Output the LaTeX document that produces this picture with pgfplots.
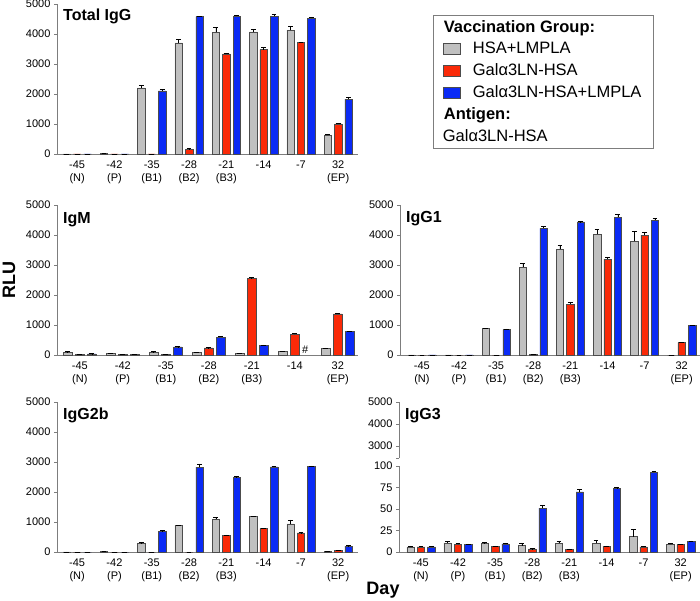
\documentclass[border=0pt]{standalone}
\usepackage{pgfplots}
\pgfplotsset{compat=1.18}
\usepackage{pgfplotstable}
\usepackage{fontspec}
\setmainfont{Liberation Sans}
\definecolor{cgrey}{RGB}{192,192,192}
\definecolor{cred}{RGB}{250,42,8}
\definecolor{cblue}{RGB}{10,42,245}
\definecolor{axgrey}{RGB}{125,125,125}

% Total IgG
\pgfplotstableread{
x g ge r re b be
0 5 0 0 0 0 0
1 15 5 0 0 0 0
2 2200 80 0 0 2100 50
3 3700 110 160 15 4580 20
4 4060 150 3340 20 4600 30
5 4070 80 3480 80 4600 60
6 4130 130 3720 10 4530 40
7 630 30 1000 20 1830 70
}\dtig
% IgM
\pgfplotstableread{
x g ge r re b be
0 100 10 10 0 40 5
1 60 5 20 0 20 0
2 100 10 20 0 270 10
3 80 10 240 10 600 20
4 60 5 2560 20 330 10
5 120 10 690 30 nan nan
6 230 10 1370 20 780 10
}\dtigm
% IgG1
\pgfplotstableread{
x g ge r re b be
0 5 0 0 0 5 0
1 5 0 0 0 5 0
2 880 20 0 0 850 20
3 2930 130 10 0 4220 60
4 3520 150 1700 60 4440 10
5 4030 150 3200 60 4600 90
6 3800 330 4000 80 4500 60
7 0 0 410 10 990 10
}\dtigi
% IgG2b
\pgfplotstableread{
x g ge r re b be
0 5 0 0 0 0 0
1 10 0 0 0 0 0
2 300 10 0 0 700 10
3 890 10 0 0 2830 110
4 1090 60 550 20 2490 20
5 1180 20 780 20 2840 20
6 940 130 640 10 2860 10
7 10 0 55 10 200 10
}\dtigiib
% IgG3
\pgfplotstableread{
x g ge r re b be
0 6 1 6 0.5 6 0.5
1 10.5 2 9 1 8.5 1
2 10 1 6.5 0.5 9.5 1
3 7.5 3 3.5 0.5 51 3
4 10 2 3 0.5 70 3
5 10 3.5 6.5 0.5 74 1
6 18 8 6 0.5 93 1
7 9 1 8.5 0.5 12 1
}\dtigiii

\tikzset{ptitle/.style={anchor=north west, inner sep=0pt, font=\bfseries\fontsize{16}{18}\selectfont}}
\pgfplotsset{
  panel/.style={
    scale only axis, height=150pt,
    axis x line*=bottom, axis y line*=left,
    axis line style={axgrey, line width=0.8pt},
    every tick/.style={axgrey, line width=0.8pt},
    tick align=outside, major tick length=3pt,
    ymin=0, ymax=5000, ytick={0,1000,2000,3000,4000,5000},
    scaled y ticks=false,
    /pgf/number format/.cd, 1000 sep={}, assume math mode=true, /pgfplots/.cd,
    tick label style={font=\fontsize{11}{13}\selectfont},
    xtick style={draw=none},
    xticklabel style={align=center},
    clip=false,
  },
  eight/.style={xtick={0,...,7},
    xticklabels={-45\\(N), -42\\(P), -35\\(B1), -28\\(B2), -21\\(B3), -14, -7, 32\\(EP)}},
  gbar/.style={ybar, bar width=0.2, bar shift=0, fill=cgrey, draw=black!70, line width=0.5pt},
  rbar/.style={ybar, bar width=0.2, bar shift=0, fill=cred, draw=black!70, line width=0.5pt},
  bbar/.style={ybar, bar width=0.2, bar shift=0, fill=cblue, draw=black!70, line width=0.5pt},
  eb/.style={/pgfplots/error bars/.cd, y dir=plus, y explicit,
    error bar style={black, line width=0.6pt},
    error mark options={rotate=90, black, mark size=2.4pt, line width=0.6pt}},
}
\newcommand{\bars}[1]{%
  \addplot[gbar, eb] table[x expr=\thisrow{x}-0.28, y=g, y error=ge] {#1};
  \addplot[rbar, eb] table[x=x, y=r, y error=re] {#1};
  \addplot[bbar, eb] table[x expr=\thisrow{x}+0.28, y=b, y error=be] {#1};
}

\begin{document}
\begin{tikzpicture}
\useasboundingbox (0,0) rectangle (700pt,600pt);

% Total IgG
\begin{axis}[panel, eight, width=301pt, at={(57pt,446pt)}, anchor=south west,
  xmin=-0.54, xmax=7.53,
  legend image code/.code={\draw[#1] (0pt,-5.5pt) rectangle (17pt,5.5pt);},
  legend style={at={(1.249,0.927)}, anchor=north west, draw=axgrey, line width=0.8pt,
    font=\fontsize{16.5}{19}\selectfont, inner xsep=10pt, inner ysep=3pt, row sep=4.5pt,
    /tikz/every odd column/.append style={column sep=10pt}},
  legend cell align=left]
\addlegendimage{empty legend}
\addlegendimage{fill=cgrey, draw=black!70, line width=0.5pt}
\addlegendimage{fill=cred, draw=black!70, line width=0.5pt}
\addlegendimage{fill=cblue, draw=black!70, line width=0.5pt}
\addlegendimage{empty legend}
\addlegendimage{empty legend}
\legend{\hspace*{-29pt}\textbf{Vaccination Group:}, HSA+LMPLA, Galα3LN-HSA, Galα3LN-HSA+LMPLA, \hspace*{-29pt}\textbf{Antigen:}, \hspace*{-30pt}Galα3LN-HSA}
\bars{\dtig}
\node[ptitle] at (rel axis cs:0.02,0.97) {Total IgG};
\end{axis}

% IgM
\begin{axis}[panel, width=301pt, at={(57pt,245pt)}, anchor=south west,
  xmin=-0.53, xmax=6.47, xtick={0,...,6},
  xticklabels={-45\\(N), -42\\(P), -35\\(B1), -28\\(B2), -21\\(B3), -14, 32\\(EP)}]
\bars{\dtigm}
\node[anchor=south, font=\fontsize{11}{13}\selectfont, inner sep=0pt] at (axis cs:5.24,40) {\#};
\node[ptitle] at (rel axis cs:0.02,0.95) {IgM};
\end{axis}

% IgG1
\begin{axis}[panel, eight, width=301pt, at={(400pt,245pt)}, anchor=south west,
  xmin=-0.59, xmax=7.52]
\bars{\dtigi}
\node[ptitle] at (rel axis cs:0.02,0.96) {IgG1};
\end{axis}

% IgG2b
\begin{axis}[panel, eight, width=301pt, at={(57pt,48pt)}, anchor=south west,
  xmin=-0.54, xmax=7.53]
\bars{\dtigiib}
\node[ptitle] at (rel axis cs:0.02,0.96) {IgG2b};
\end{axis}

% IgG3 lower segment
\begin{axis}[panel, eight, width=301pt, height=86pt, at={(399pt,48pt)}, anchor=south west,
  xmin=-0.59, xmax=7.52, ymin=0, ymax=100, ytick={0,25,50,75,100}]
\bars{\dtigiii}
\end{axis}

% IgG3 upper segment
\begin{axis}[panel, width=301pt, height=56pt, at={(399pt,142pt)}, anchor=south west,
  xmin=-0.59, xmax=7.52, ymin=2450, ymax=5000, ytick={3000,4000,5000},
  axis x line=none, extra y ticks={2450}, extra y tick labels={}]
\node[ptitle] at (rel axis cs:0.02,0.89) {IgG3};
\end{axis}

\node[font=\bfseries\fontsize{18}{20}\selectfont, rotate=90] at (9pt,320pt) {RLU};
\node[font=\bfseries\fontsize{18}{20}\selectfont] at (383pt,10pt) {Day};
\end{tikzpicture}
\end{document}
